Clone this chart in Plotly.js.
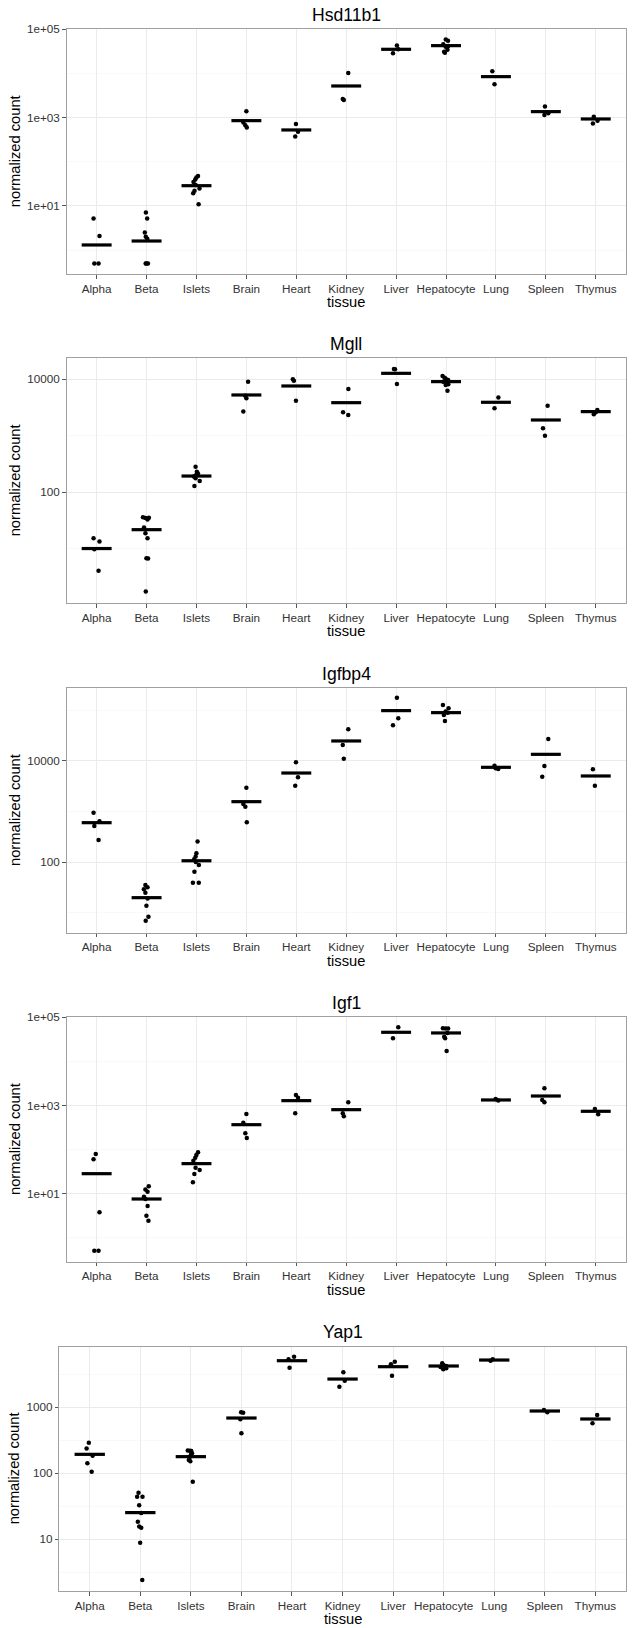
<!DOCTYPE html>
<html>
<head>
<meta charset="utf-8">
<script src="https://cdn.plot.ly/plotly-3.0.1.min.js"></script>
<style>html,body{margin:0;padding:0;background:#fff;}</style>
</head>
<body>
<div id="chart" style="width:633px;height:1628px;"></div>
<script>
// ---------------- data ----------------
const tissues = ["Alpha","Beta","Islets","Brain","Heart","Kidney","Liver","Hepatocyte","Lung","Spleen","Thymus"];
const genes = ["Hsd11b1","Mgll","Igfbp4","Igf1","Yap1"];

const hsd11b1Points = [
  [5.2, 2.1, 0.5, 0.5],
  [7.1, 5.2, 2.5, 2.0, 1.8, 0.5, 0.5, 0.5],
  [48, 44, 40, 35, 30, 25, 22, 19.5, 10.9],
  [1390, 780, 670, 595],
  [720, 480, 372],
  [10300, 2650, 2500],
  [42700, 35200, 28600],
  [59000, 55000, 46000, 42000, 40500, 34500, 31000, 29500],
  [11200, 5700],
  [1780, 1260, 1150],
  [1050, 850, 740]
];
const hsd11b1Bars = [1.31, 1.61, 28.8, 855, 526, 5210, 35250, 42660, 8480, 1368, 933];

const mgllPoints = [
  [15.3, 13.4, 9.8, 4.1],
  [36, 35.5, 35, 33, 23.7, 18.8, 15.3, 6.8, 6.7, 1.75],
  [284, 232, 215, 205, 195, 190, 177, 159, 129],
  [9100, 5100, 4600, 2680],
  [10000, 9400, 4190],
  [6740, 2610, 2340],
  [15200, 15000, 8260],
  [11450, 10700, 10200, 9700, 9100, 8200, 7900, 6300],
  [4750, 3070],
  [3420, 1360, 1007],
  [2865, 2600, 2400]
];
const mgllBars = [10.1, 21.8, 194, 5280, 7620, 3860, 12770, 9100, 3920, 1905, 2680];

const igfbp4Points = [
  [948, 640, 517, 273],
  [35, 31.5, 28.8, 24.7, 19, 13.6, 8.3, 6.9],
  [256, 149, 128, 113, 100, 87, 64, 39, 39],
  [2965, 1410, 1248, 610],
  [9420, 4750, 3250],
  [42400, 20700, 11100],
  [179600, 70000, 50800],
  [128500, 110400, 95000, 90000, 81300, 61900],
  [8090, 7200, 6950],
  [27300, 7960, 4900],
  [6840, 3250]
];
const igfbp4Bars = [601, 19.7, 106, 1567, 5780, 24900, 99300, 90600, 7500, 13550, 5050];

const igf1Points = [
  [79.4, 60, 3.8, 0.51, 0.51],
  [14.7, 12.5, 11.1, 8.5, 7.6, 5.25, 3.17, 2.44],
  [86.7, 75.4, 65.6, 56, 38.9, 34.4, 27.9, 18.1],
  [641, 408, 234, 183],
  [1730, 1500, 664],
  [1180, 664, 568],
  [59300, 33400],
  [56200, 56000, 55500, 44000, 36400, 33400, 17200],
  [1400, 1290],
  [2455, 1334, 1180],
  [832, 631]
];
const igf1Bars = [28.4, 7.57, 48, 367, 1288, 804, 45700, 44150, 1334, 1640, 738];

const yap1Points = [
  [292, 237, 185, 142, 106],
  [50.9, 44.3, 44.3, 32.7, 25, 18.5, 15.6, 15, 8.9, 2.42],
  [222, 220, 218, 201, 190, 179, 159, 152, 74.8],
  [840, 830, 658, 404],
  [5860, 5340, 3990],
  [3390, 2535, 2057],
  [4920, 4490, 3020],
  [4640, 4400, 4230, 4100, 3900, 3770],
  [5340, 5090],
  [912, 840],
  [766, 572]
];
const yap1Bars = [194, 25.4, 179, 689, 5090, 2684, 4130, 4230, 5210, 880, 666];

const yTickVals = [[10, 1000, 100000], [100, 10000], [100, 10000], [10, 1000, 100000], [10, 100, 1000]];
const yTickText = [["1e+01", "1e+03", "1e+05"], ["100", "10000"], ["100", "10000"], ["1e+01", "1e+03", "1e+05"], ["10", "100", "1000"]];
const yMinorVals = [[1, 100, 10000], [10, 1000, 100000], [10, 1000, 100000], [1, 100, 10000], [3.162, 31.62, 316.2, 3162]];
const yLogRanges = [[-0.54, 5.0], [0.035, 4.372], [0.601, 5.439], [-0.543, 5.0], [0.217, 3.919]];

const xTitle = "tissue";
const yTitle = "normalized count";

// ---------------- layout geometry (px) ----------------
const W = 633, H = 1628;
const panelTop = [29.3, 358.3, 688.3, 1017.3, 1346.7];
const panelBottom = [274.0, 603.3, 932.7, 1261.7, 1591.0];
const panelLeft = [66.7, 66.7, 66.7, 66.7, 59.4];
const panelRight = 625.7;

const pointsByGene = [hsd11b1Points, mgllPoints, igfbp4Points, igf1Points, yap1Points];
const barsByGene = [hsd11b1Bars, mgllBars, igfbp4Bars, igf1Bars, yap1Bars];

const FONT = "Liberation Sans, Arial, Helvetica, sans-serif";
const traces = [];
const layout = {
  width: W, height: H,
  margin: {l: 0, r: 0, t: 0, b: 0},
  paper_bgcolor: "#ffffff", plot_bgcolor: "#ffffff",
  showlegend: false,
  font: {family: FONT, color: "#000"},
  annotations: []
};

genes.forEach((gene, k) => {
  const sfx = k === 0 ? "" : String(k + 1);
  const xs = [], ys = [];
  pointsByGene[k].forEach((arr, i) => arr.forEach(v => { xs.push(tissues[i]); ys.push(v); }));
  const spacing = (panelRight - panelLeft[k]) / 11.2;
  const barLen = 0.6 * spacing;

  traces.push({
    type: "box", x: xs, y: ys, xaxis: "x" + sfx, yaxis: "y" + sfx,
    boxpoints: "all", jitter: 0.3, pointpos: 0,
    fillcolor: "rgba(0,0,0,0)", line: {color: "rgba(0,0,0,0)", width: 0},
    marker: {color: "#000", size: 4.5, line: {width: 0}},
    hoverinfo: "y", showlegend: false
  });
  traces.push({
    type: "scatter", mode: "markers", x: tissues, y: barsByGene[k],
    xaxis: "x" + sfx, yaxis: "y" + sfx,
    marker: {symbol: "line-ew", size: barLen / 1.4, color: "#000", line: {color: "#000", width: 3.2}},
    hoverinfo: "y", showlegend: false, cliponaxis: false
  });

  const ax = "xaxis" + sfx, ay = "yaxis" + sfx;
  layout[ax] = {
    domain: [panelLeft[k] / W, panelRight / W],
    anchor: "y" + sfx,
    type: "category", categoryorder: "array", categoryarray: tissues,
    range: [-0.6, 10.6],
    showgrid: true, gridcolor: "#ebebeb", gridwidth: 1,
    zeroline: false,
    showline: true, linecolor: "#a0a0a0", linewidth: 1, mirror: true,
    ticks: "outside", ticklen: 3.5, tickwidth: 1, tickcolor: "#555",
    tickfont: {family: FONT, size: 11.7, color: "#333"},
    fixedrange: true
  };
  layout[ay] = {
    domain: [1 - panelBottom[k] / H, 1 - panelTop[k] / H],
    anchor: "x" + sfx,
    type: "log", range: yLogRanges[k],
    tickmode: "array", tickvals: yTickVals[k], ticktext: yTickText[k],
    showgrid: true, gridcolor: "#ebebeb", gridwidth: 1,
    minor: {tickmode: "array", tickvals: yMinorVals[k], showgrid: true, gridcolor: "#f5f5f5", gridwidth: 0.6, ticks: ""},
    zeroline: false,
    showline: true, linecolor: "#a0a0a0", linewidth: 1, mirror: true,
    ticks: "outside", ticklen: 3.5, tickwidth: 1, tickcolor: "#555",
    tickfont: {family: FONT, size: 11.7, color: "#333"},
    fixedrange: true
  };

  const cx = (panelLeft[k] + panelRight) / 2;
  const cy = (panelTop[k] + panelBottom[k]) / 2;
  layout.annotations.push({
    text: gene, xref: "paper", yref: "paper",
    x: cx / W, y: 1 - (panelTop[k] - 14.5) / H, xanchor: "center", yanchor: "middle",
    showarrow: false, font: {family: FONT, size: 17.6, color: "#000"}
  });
  layout.annotations.push({
    text: xTitle, xref: "paper", yref: "paper",
    x: cx / W, y: 1 - (panelBottom[k] + 28) / H, xanchor: "center", yanchor: "middle",
    showarrow: false, font: {family: FONT, size: 14.7, color: "#000"}
  });
  layout.annotations.push({
    text: yTitle, xref: "paper", yref: "paper", textangle: -90,
    x: (k === 4 ? 13.5 : 14.5) / W, y: 1 - cy / H, xanchor: "center", yanchor: "middle",
    showarrow: false, font: {family: FONT, size: 14.7, color: "#000"}
  });
});

Plotly.newPlot("chart", traces, layout, {displayModeBar: false, staticPlot: true});
</script>
</body>
</html>
